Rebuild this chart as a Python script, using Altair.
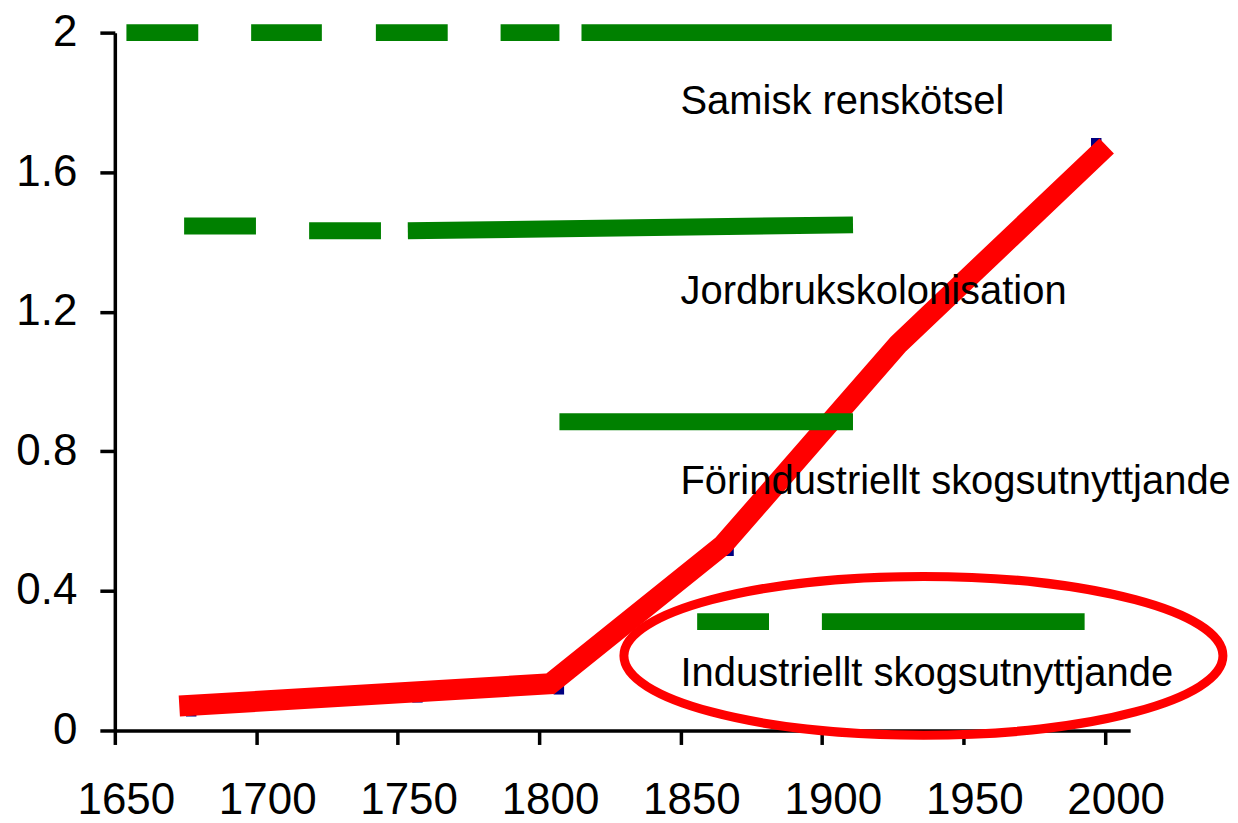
import altair as alt
import pandas as pd

# ---- data ----
x_ticks = [1650, 1700, 1750, 1800, 1850, 1900, 1950, 2000]
y_ticks = [0, 0.4, 0.8, 1.2, 1.6, 2]

# red trend line (drawn thick) and the underlying navy data markers
red_years = [1672.8, 1804, 1865, 1927, 2000.7]
red_values = [0.070, 0.134, 0.531, 1.107, 1.675]
marker_years = [1677, 1757, 1807, 1867, 1927, 1997]
marker_values = [0.055, 0.095, 0.118, 0.515, 1.10, 1.683]

# green period bars: segments (start year, end year, start level, end level)
samisk_x0 = [1654.1, 1698.2, 1742.3, 1786.4, 1815.0]
samisk_x1 = [1679.5, 1723.2, 1767.7, 1807.2, 2002.5]
samisk_y0 = [2.0, 2.0, 2.0, 2.0, 2.0]
samisk_y1 = [2.0, 2.0, 2.0, 2.0, 2.0]

jord_x0 = [1674.5, 1718.7, 1753.6]
jord_x1 = [1699.9, 1744.1, 1911.0]
jord_y0 = [1.446, 1.432, 1.432]
jord_y1 = [1.446, 1.432, 1.449]

forind_x0 = [1807.2]
forind_x1 = [1911.0]
forind_y0 = [0.885]
forind_y1 = [0.885]

indust_x0 = [1855.9, 1900.0]
indust_x1 = [1881.3, 1992.9]
indust_y0 = [0.312, 0.312]
indust_y1 = [0.312, 0.312]

labels = ["Samisk renskötsel", "Jordbrukskolonisation",
          "Förindustriellt skogsutnyttjande", "Industriellt skogsutnyttjande"]
label_x = [1850, 1850, 1850, 1850]
label_y = [1.767, 1.2225, 0.6776, 0.128]

ellipse_x = [1935.9]
ellipse_y = [0.214]

# ---- tables ----
seg = pd.DataFrame({
    "x": samisk_x0 + jord_x0 + forind_x0 + indust_x0,
    "x2": samisk_x1 + jord_x1 + forind_x1 + indust_x1,
    "y": samisk_y0 + jord_y0 + forind_y0 + indust_y0,
    "y2": samisk_y1 + jord_y1 + forind_y1 + indust_y1,
})
red = pd.DataFrame({"x": red_years, "y": red_values})
marks = pd.DataFrame({"x": marker_years, "y": marker_values})
lab = pd.DataFrame({"x": label_x, "y": label_y, "t": labels})
ell = pd.DataFrame({"x": ellipse_x, "y": ellipse_y})

FONT = "Liberation Sans, Arial, Helvetica, sans-serif"

xscale = alt.Scale(domain=[1650, 2009], nice=False, zero=False)
yscale = alt.Scale(domain=[0, 2], nice=False, zero=True)

xaxis = alt.Axis(values=x_ticks, format="d", title=None, grid=False,
                 domainColor="black", domainWidth=3.5, tickColor="black",
                 tickWidth=3.5, tickSize=14, labelFontSize=44, labelFont=FONT,
                 labelColor="black", labelPadding=34, labelBaseline="top",
                 labelOffset=11, labelFlush=False, labelOverlap=False)
yaxis = alt.Axis(values=y_ticks, format="~g", title=None, grid=False,
                 domainColor="black", domainWidth=3.5, tickColor="black",
                 tickWidth=3.5, tickSize=15, labelFontSize=44, labelFont=FONT,
                 labelColor="black", labelPadding=23, labelBaseline="middle",
                 labelFlush=False, labelOverlap=False)

X = alt.X("x:Q", scale=xscale, axis=xaxis)
Y = alt.Y("y:Q", scale=yscale, axis=yaxis)

base_markers = alt.Chart(marks).mark_point(
    shape="square", filled=True, color="#000080", size=110, opacity=1
).encode(x=X, y=Y)

red_line = alt.Chart(red).mark_line(
    color="#ff0000", strokeWidth=21, strokeCap="butt", strokeJoin="miter"
).encode(x=X, y=Y)

k = 0.5523
ry = 0.265
ell_path = (
    f"M-1,0 C-1,{-k*ry:.4f} {-k:.4f},{-ry} 0,{-ry} "
    f"C{k:.4f},{-ry} 1,{-k*ry:.4f} 1,0 "
    f"C1,{k*ry:.4f} {k:.4f},{ry} 0,{ry} "
    f"C{-k:.4f},{ry} -1,{k*ry:.4f} -1,0 Z"
)
ellipse = alt.Chart(ell).mark_point(
    shape=ell_path, filled=False, stroke="#ff0000", strokeWidth=9,
    size=600 * 600, opacity=1
).encode(x=X, y=Y)

green = alt.Chart(seg).mark_rule(
    color="#008000", strokeWidth=17, strokeCap="butt"
).encode(x=X, x2="x2:Q", y=Y, y2="y2:Q")

texts = alt.Chart(lab).mark_text(
    align="left", baseline="alphabetic", fontSize=40, font=FONT, color="black"
).encode(x=X, y=Y, text="t:N")

chart = alt.layer(base_markers, red_line, ellipse, green, texts).properties(
    width=1017, height=699,
    autosize=alt.AutoSizeParams(type="none"),
    padding={"left": 107, "top": 24, "right": 100, "bottom": 92},
    background="white",
).configure_view(stroke=None)

chart.save("out.html", embed_options={"renderer": "svg", "actions": False})
